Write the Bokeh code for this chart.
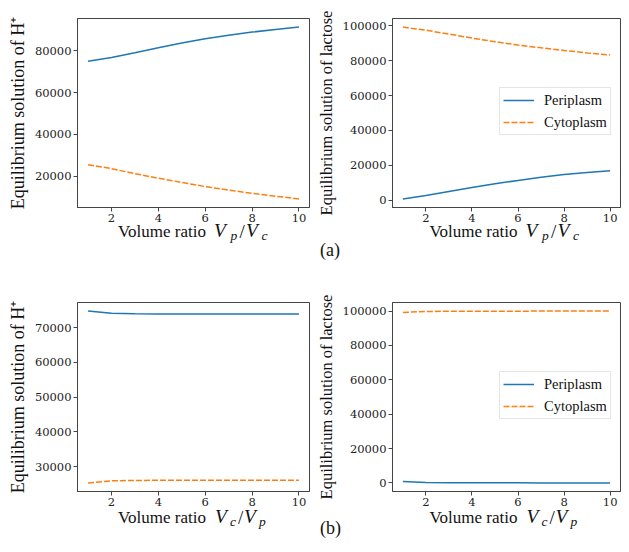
from bokeh.plotting import figure
from bokeh.models import Range1d, FixedTicker, BasicTickFormatter, Legend, LegendItem, Div
from bokeh.layouts import column, row
from bokeh.embed import file_html
from bokeh.resources import INLINE

# ---------------- data ----------------
x = [1, 2, 3, 4, 5, 6, 7, 8, 9, 10]
x_ticks = [2, 4, 6, 8, 10]

# (a) volume ratio Vp/Vc
a_h_periplasm = [75000, 76800, 79100, 81500, 83800, 85800, 87500, 89000, 90300, 91400]
a_h_cytoplasm = [25500, 23600, 21200, 19000, 17000, 15000, 13300, 11800, 10400, 9100]
a_lac_periplasm = [700, 2700, 5000, 7200, 9400, 11300, 13100, 14700, 15900, 16900]
a_lac_cytoplasm = [99300, 97500, 95300, 93000, 90900, 89000, 87400, 85900, 84500, 83300]

# (b) volume ratio Vc/Vp
b_h_periplasm = [74800, 74150, 74000, 73960, 73950, 73950, 73950, 73950, 73950, 73950]
b_h_cytoplasm = [25300, 25900, 26000, 26050, 26050, 26050, 26050, 26050, 26050, 26050]
b_lac_periplasm = [800, 250, 120, 80, 60, 50, 40, 30, 30, 25]
b_lac_cytoplasm = [99200, 99750, 99880, 99920, 99940, 99950, 99960, 99970, 99970, 99975]

ticks_a_h = [20000, 40000, 60000, 80000]
ticks_lac = [0, 20000, 40000, 60000, 80000, 100000]
ticks_b_h = [30000, 40000, 50000, 60000, 70000]

series_names = ["Periplasm", "Cytoplasm"]
ylabel_h = "Equilibrium solution of H\u207a"
ylabel_lac = "Equilibrium solution of lactose"
xlabel_text = "Volume ratio"
panel_tags = ["(a)", "(b)"]

BLUE = "#1f77b4"
ORANGE = "#ff7f0e"
SERIF = "Liberation Serif"
TICKFONT = "DejaVu Serif"
FRAME = "#444444"
XMIN, XMAX = 0.55, 10.45
TOTAL_W = 621

# pieces of the math part of the x label: (text, dx, dy, size, style)
math_p_c = [("V", 96, 0, 19.5, "italic"), ("p", 112.5, -3, 13.5, "italic"),
            ("/", 121.5, 0, 19, "normal"), ("V", 128, 0, 19.5, "italic"),
            ("c", 143.5, -3, 13.5, "italic")]
math_c_p = [("V", 97, 0, 19.5, "italic"), ("c", 112, -3, 13.5, "italic"),
            ("/", 120, 0, 19, "normal"), ("V", 126, 0, 19.5, "italic"),
            ("p", 141, -3, 13.5, "italic")]


def make(width, height, bl, br, bt, bb, peri, cyto, yticks, ylabel, ylabel_size, legend):
    lo = min(min(peri), min(cyto))
    hi = max(max(peri), max(cyto))
    pad = 0.05 * (hi - lo)
    p = figure(width=width, height=height, output_backend="svg", toolbar_location=None,
               x_range=Range1d(XMIN, XMAX), y_range=Range1d(lo - pad, hi + pad),
               min_border_left=bl, min_border_right=br, min_border_top=bt, min_border_bottom=bb)
    p.grid.visible = False
    p.outline_line_color = FRAME
    p.outline_line_width = 1
    p.background_fill_color = "white"
    p.border_fill_color = "white"

    r1 = p.line(x, peri, line_color=BLUE, line_width=1.5)
    r2 = p.line(x, cyto, line_color=ORANGE, line_width=1.5, line_dash="6 2")

    for ax in (p.xaxis[0], p.yaxis[0]):
        ax.axis_line_color = FRAME
        ax.major_tick_line_color = FRAME
        ax.major_tick_out = 4
        ax.major_tick_in = 0
        ax.minor_tick_line_color = None
        ax.major_label_text_font = TICKFONT
        ax.major_label_text_font_size = "11.5px"
        ax.major_label_text_color = "#222222"
        ax.major_label_standoff = 2
    p.xaxis.ticker = FixedTicker(ticks=x_ticks)
    p.yaxis.ticker = FixedTicker(ticks=yticks)
    p.yaxis.formatter = BasicTickFormatter(use_scientific=False)
    p.yaxis.axis_label = ylabel
    p.yaxis.axis_label_text_font = SERIF
    p.yaxis.axis_label_text_font_size = ylabel_size
    p.yaxis.axis_label_text_font_style = "normal"
    p.yaxis.axis_label_text_color = "#111111"
    p.yaxis.axis_label_standoff = 4

    if legend:
        lg = Legend(items=[LegendItem(label=series_names[0], renderers=[r1]),
                           LegendItem(label=series_names[1], renderers=[r2])],
                    location=(107, 72))
        lg.margin = 0
        lg.padding = 3
        lg.spacing = 4
        lg.label_height = 18
        lg.glyph_height = 18
        lg.glyph_width = 31
        lg.label_standoff = 10
        lg.label_text_font = SERIF
        lg.label_text_font_size = "14.5px"
        lg.label_text_color = "#111111"
        lg.border_line_color = "#cccccc"
        lg.border_line_width = 1
        lg.background_fill_alpha = 0.8
        p.add_layout(lg)
    return p


def span(txt, left, baseline, size, style="normal"):
    top = baseline - 10 - 0.3375 * size
    return (f'<span style="position:absolute;left:{left:.1f}px;top:{top:.1f}px;'
            f'font-family:{SERIF},serif;font-size:{size}px;font-style:{style};'
            f'line-height:20px;white-space:nowrap;color:#111111">{txt}</span>')


def xlabel(left, baseline, math):
    parts = [span(xlabel_text, left, baseline, 17)]
    for txt, dx, dy, size, style in math:
        parts.append(span(txt, left + dx, baseline - dy, size, style))
    return "".join(parts)


def label_row(height, baseline, math, tag, tag_baseline):
    inner = (xlabel(118, baseline, math) + xlabel(429.5, baseline, math)
             + span(tag, 320, tag_baseline, 18))
    html = (f'<div style="position:relative;width:{TOTAL_W}px;height:{height}px;'
            f'font-family:{SERIF},serif">{inner}</div>')
    return Div(text=html, width=TOTAL_W, height=height, margin=(0, 0, 0, 0),
               styles={"font-family": f"{SERIF}, serif"})


tl = make(313, 226, 77, 4, 18, 19, a_h_periplasm, a_h_cytoplasm, ticks_a_h, ylabel_h, "18px", False)
tr = make(308, 226, 76, 1, 18, 19, a_lac_periplasm, a_lac_cytoplasm, ticks_lac, ylabel_lac, "16.5px", True)
bl = make(313, 240, 77, 4, 32, 19, b_h_periplasm, b_h_cytoplasm, ticks_b_h, ylabel_h, "18px", False)
br = make(308, 240, 76, 1, 32, 19, b_lac_periplasm, b_lac_cytoplasm, ticks_lac, ylabel_lac, "16.5px", True)

row_a = label_row(44, 12, math_p_c, panel_tags[0], 30)
row_b = label_row(34, 14, math_c_p, panel_tags[1], 24)

layout = column(row(tl, tr), row_a, row(bl, br), row_b)
open("out.html", "w").write(file_html(layout, INLINE))
